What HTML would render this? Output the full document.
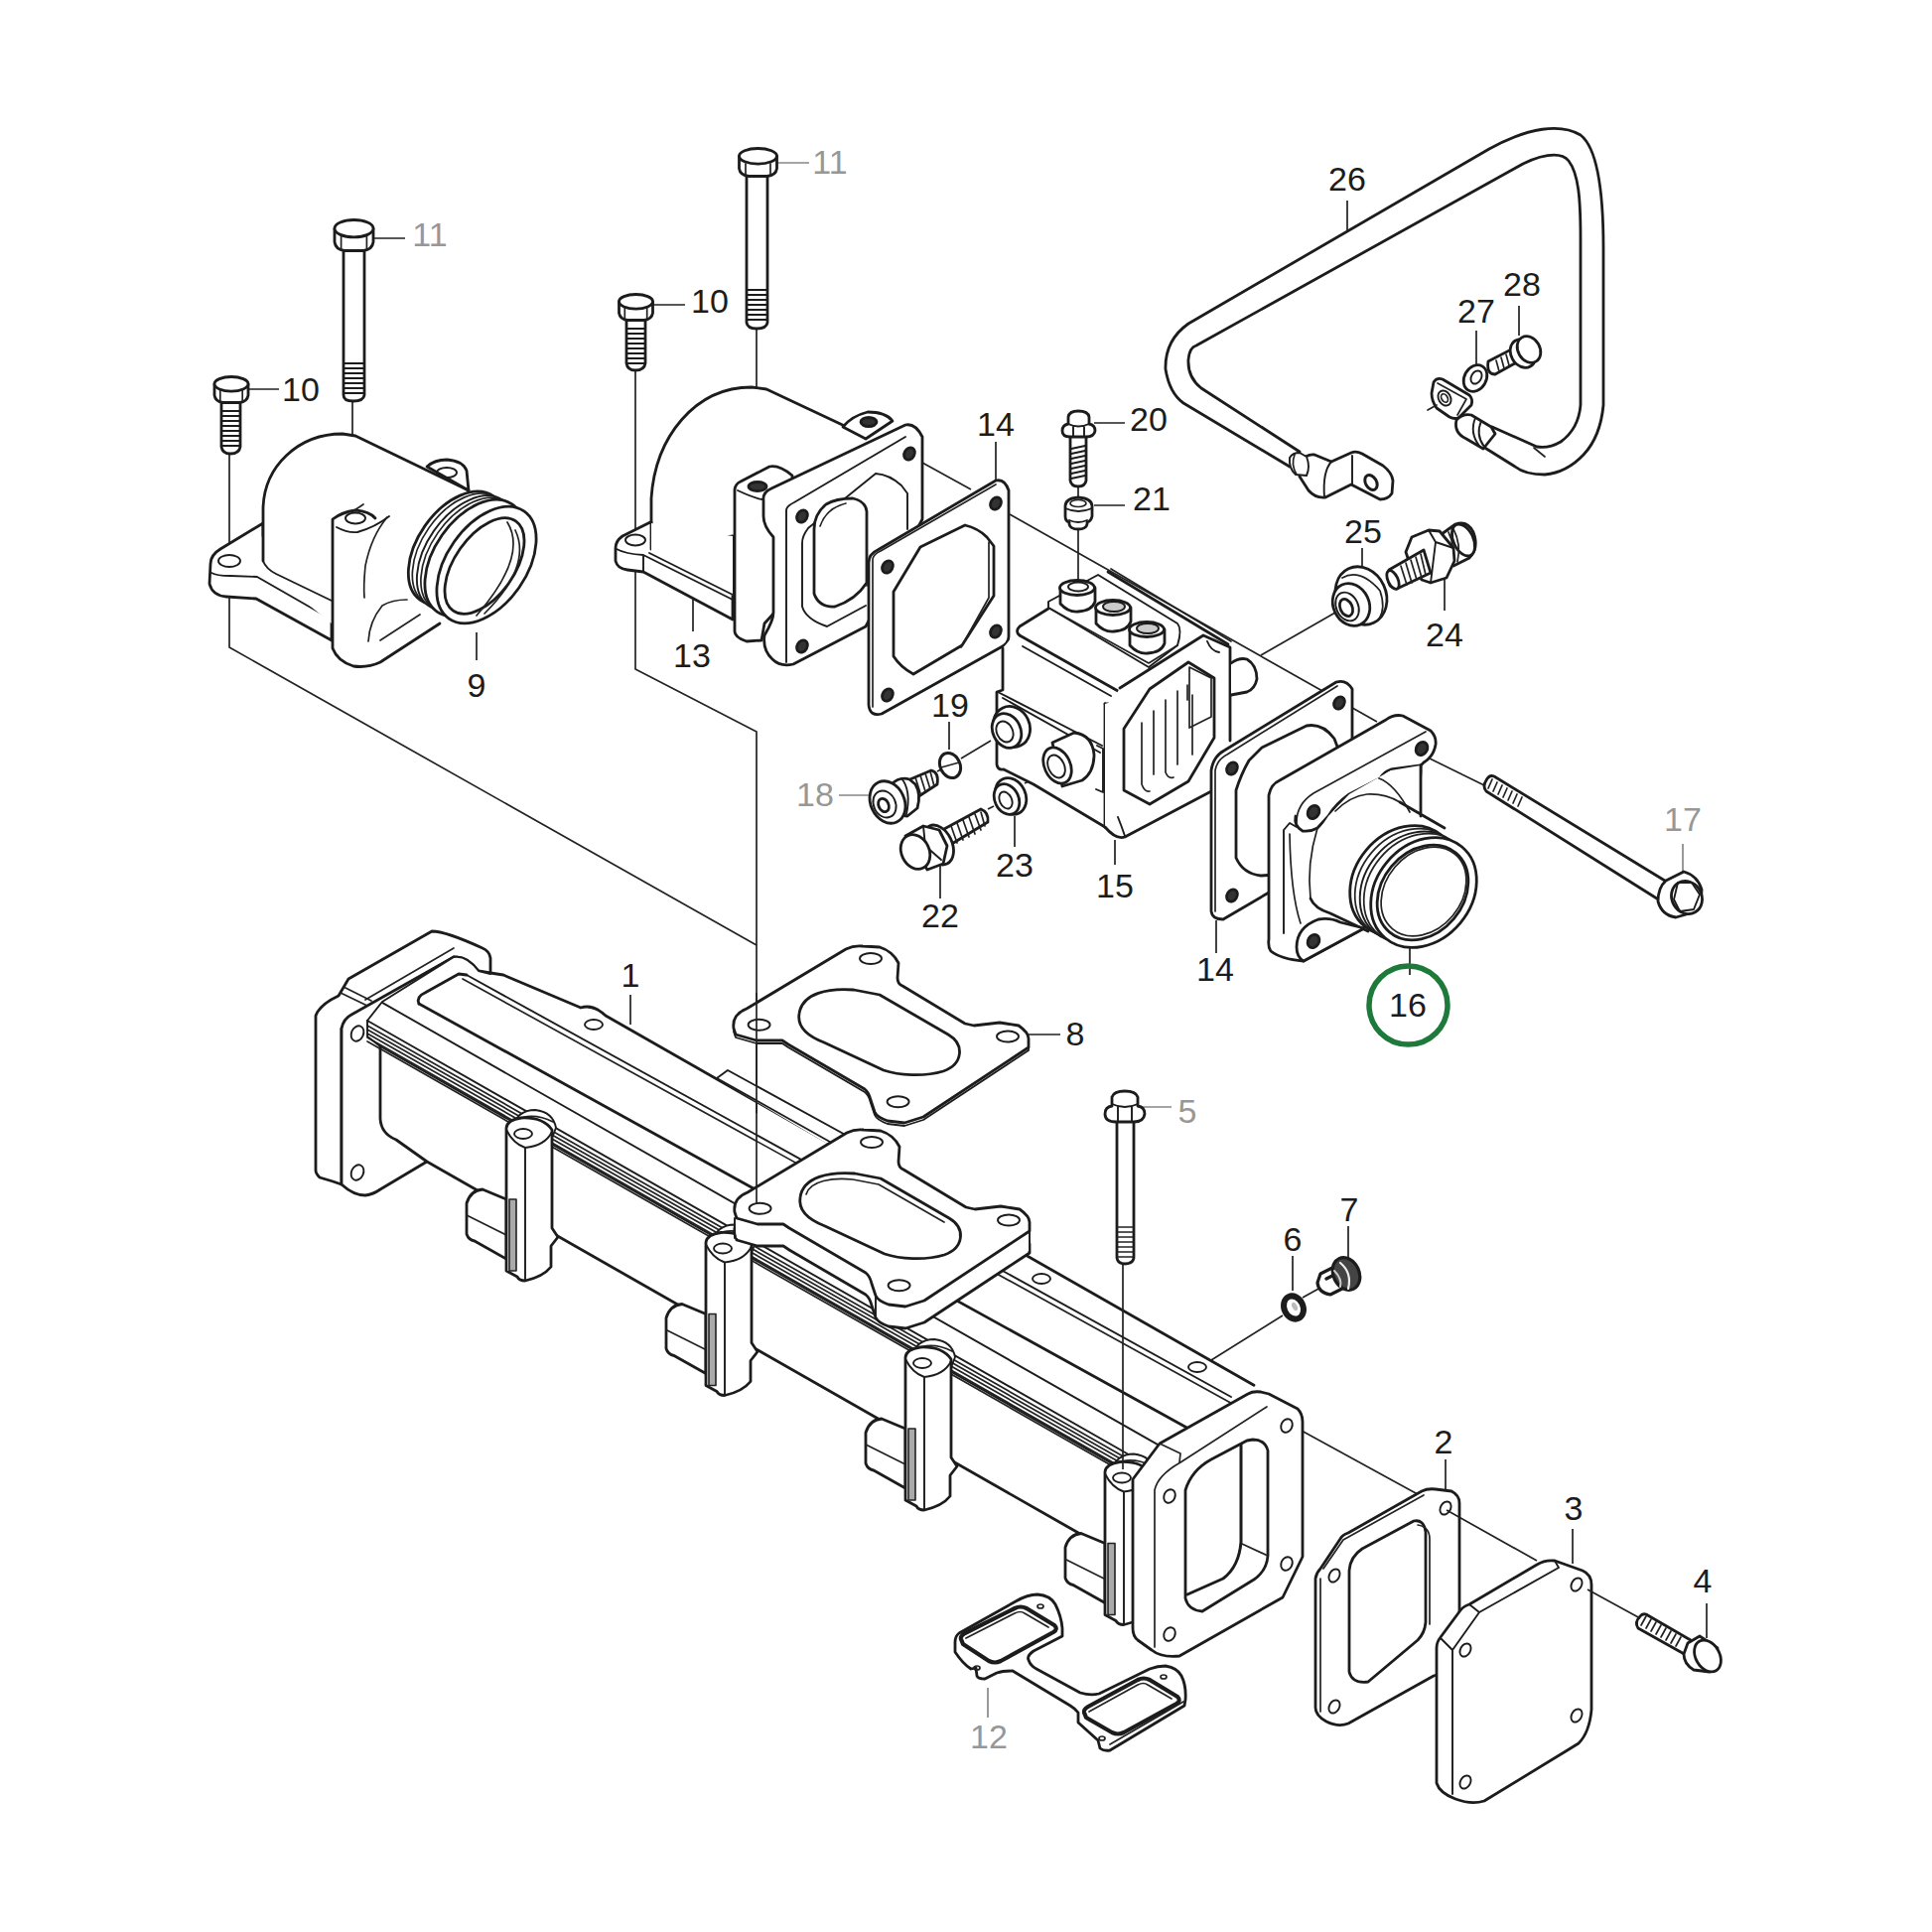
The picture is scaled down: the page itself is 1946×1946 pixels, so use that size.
<!DOCTYPE html>
<html><head><meta charset="utf-8"><style>
html,body{margin:0;padding:0;background:#fff;width:1946px;height:1946px;overflow:hidden}
svg{display:block}
.k{stroke:#1c1c1c;stroke-width:2.8;fill:none;stroke-linejoin:round;stroke-linecap:round}
.w{fill:#fff}
.t{stroke:#222;stroke-width:1.7;fill:none}
.tg{stroke:#888;stroke-width:1.7;fill:none}
.m{stroke-width:1.9}
text{font-family:"Liberation Sans",sans-serif;font-size:34px;fill:#1c1c1c;text-anchor:middle}
text.g{fill:#979797}
</style></head><body>
<svg width="1946" height="1946" viewBox="0 0 1946 1946">
<rect width="1946" height="1946" fill="#fff"/>
<!-- CONNECTOR LINES -->
<g class="t">
<path d="M231,455 V652 L762,952"/>
<path d="M640,372 V674 L762,737 V1217"/>
<path d="M355,402 V530"/>
<path d="M762,330 V390"/>
<path d="M929,466 L978,493 M1017,518 L1387,727"/>

<path d="M1086,490 V502 M1086,533 V590"/>
<path d="M1345,617 L1270,660"/>
<path d="M1438,763 L1497,792"/>
<path d="M1220,1370 L1292,1325 M1312,1307 L1330,1297"/>
<path d="M1300,1435 L1457,1521"/>

<path d="M944,777 L948,775 M968,764 L998,746"/>
<path d="M1032,789 L1058,777 M995,815 L1001,812"/>
</g>
<!-- LEADERS -->
<g class="t">
<path d="M376,240 H408 M250,392 H281 M657,307 H690 M1357,202 V232 M1487,333 V367 M1530,308 V338 M1102,426 H1133 M1102,509 H1133 M1003,445 V485 M1372,552 V572 M1455,570 V615 M480,637 V665 M698,604 V636 M956,727 V755 M1022,822 V853 M947,870 V905 M1123,846 V871 M1225,927 V960 M1420,952 V982 M635,1002 V1032 M1035,1042 H1068 M1302,1265 V1300 M1358,1235 V1270 M1456,1470 V1505 M1584,1540 V1575 M1719,1615 V1650"/>
</g>
<g class="tg">
<path d="M782,164 H815 M845,801 H875 M1695,850 V882 M1150,1115 H1180 M995,1700 V1730"/>
</g>
<!--PARTS-->
<!-- P1 manifold -->
<g class="k">
<path class="w" d="M341,1003 L351,986 L435,938 Q449,938 486,955 Q493,958 494,965 V980 L482,978 L457,964 L368,1017 Q350,1024 344,1036 V1193 Q336,1190 322,1186 Q318,1182 318,1179 V1023 Q322,1012 341,1003 Z"/>
<path class="w" d="M344,1036 Q346,1026 354,1022 L457,964 Q470,962 482,978 L494,981 L494,1000 L430,1170 L383,1198 Q376,1203 368,1204 Q356,1204 344,1193 Z"/>
<path class="t" d="M343,1000 L370,1013 M346,994 L374,1008 M368,1007 L457,955"/>
<ellipse class="m" cx="360" cy="1041" rx="6" ry="8" transform="rotate(25 360 1041)"/><ellipse class="m" cx="360" cy="1181" rx="6" ry="8" transform="rotate(25 360 1181)"/>
<path class="w" stroke="none" d="M370,1028 L385,1009 L457,964 Q470,962 482,978 L494,981 L507,982 L1263,1395 L1311,1425 V1601 L1175,1668 L1142,1643 L1142,1574 L430,1170 Q405,1155 399,1148 Q384,1142 383,1127 V1054 L371,1044 Z"/>
<path d="M494,980 L507,982 L585,1015 Q597,1011 610,1023 L1263,1395.2"/>
<path class="m" d="M370,1028 L385,1009 L457,964 Q470,962 482,978 L494,981"/>
<path d="M422,1011 Q419,1004 428,1000 L462,981 L470,982"/><path class="m" d="M470,982 L1240,1407.0"/>
<path class="t" d="M466,986 L1240,1413.2"/>
<path d="M422,1011.0 L1195,1437.7"/>
<path class="m" d="M385,1009.9 L1175,1460.2"/>
<path class="m" d="M370,1028.0 L1142,1468.0"/>
<path class="t" d="M370,1033.0 L1142,1473.0"/>
<path class="t" d="M370,1037.0 L1142,1477.0"/>
<path class="t" d="M370,1041.0 L1142,1481.0"/>
<path class="t" d="M370,1045.0 L1142,1485.0"/>
<path class="t" d="M370,1049.0 L1142,1489.0"/>
<path class="m" d="M383,1054.0 L1142,1486.6"/>
<path class="m" d="M370,1028 V1044 L383,1054"/>
<path class="w" d="M722,1086 L733,1078 L870,1153 L850,1162 Z" stroke="none"/><path class="m" d="M722,1086 L733,1078 L866,1151 M722,1086 L850,1158"/><ellipse class="m" cx="598" cy="1032" rx="9" ry="5"/><ellipse class="m" cx="1049" cy="1288" rx="9" ry="5"/><ellipse class="m" cx="1206" cy="1377" rx="9" ry="5"/>
<path d="M383,1054 V1127 Q384,1142 399,1148 L430,1170 L1142,1575.8"/>
</g>
<g class="k">
<path class="w" d="M470.0,1212.0 V1243.0 Q472.0,1249.0 478.0,1250.0 L510.0,1268.0 V1208.0 L486.0,1198.0 Q474.0,1199.0 470.0,1212.0 Z"/>
<path class="t" d="M470.0,1224.0 L510.0,1244.0"/>
<path class="w m" d="M516.0,1136.0 Q521.0,1118.0 539.0,1118.0 Q557.0,1120.0 560.0,1136.0 L556.0,1146.0 Z"/>
<path class="t" d="M519.0,1128.0 Q537.0,1120.0 557.0,1130.0"/>
<path class="w" d="M510.0,1136.0 Q511.0,1128.0 525.0,1126.0 Q547.0,1125.0 556.0,1138.0 V1237.0 L562.0,1246.0 L555.0,1255.0 V1276.0 Q547.0,1286.0 529.0,1290.0 Q523.0,1290.0 521.0,1286.0 L510.0,1280.0 Z"/>
<path class="m" d="M510.0,1138.0 Q517.0,1152.0 529.0,1156.0 Q549.0,1154.0 556.0,1140.0 M529.0,1156.0 V1289.0"/>
<ellipse class="m" cx="527" cy="1142.0" rx="9" ry="5"/>
<rect x="513.0" y="1208.0" width="7" height="72" fill="#aaa" stroke="#222" stroke-width="1.6"/>
<path class="w" d="M671.0,1327.5 V1358.5 Q673.0,1364.5 679.0,1365.5 L711.0,1383.5 V1323.5 L687.0,1313.5 Q675.0,1314.5 671.0,1327.5 Z"/>
<path class="t" d="M671.0,1339.5 L711.0,1359.5"/>
<path class="w m" d="M717.0,1251.5 Q722.0,1233.5 740.0,1233.5 Q758.0,1235.5 761.0,1251.5 L757.0,1261.5 Z"/>
<path class="t" d="M720.0,1243.5 Q738.0,1235.5 758.0,1245.5"/>
<path class="w" d="M711.0,1251.5 Q712.0,1243.5 726.0,1241.5 Q748.0,1240.5 757.0,1253.5 V1352.5 L763.0,1361.5 L756.0,1370.5 V1391.5 Q748.0,1401.5 730.0,1405.5 Q724.0,1405.5 722.0,1401.5 L711.0,1395.5 Z"/>
<path class="m" d="M711.0,1253.5 Q718.0,1267.5 730.0,1271.5 Q750.0,1269.5 757.0,1255.5 M730.0,1271.5 V1404.5"/>
<ellipse class="m" cx="728" cy="1257.5" rx="9" ry="5"/>
<rect x="714.0" y="1323.5" width="7" height="72" fill="#aaa" stroke="#222" stroke-width="1.6"/>
<path class="w" d="M872.0,1443.0 V1474.0 Q874.0,1480.0 880.0,1481.0 L912.0,1499.0 V1439.0 L888.0,1429.0 Q876.0,1430.0 872.0,1443.0 Z"/>
<path class="t" d="M872.0,1455.0 L912.0,1475.0"/>
<path class="w m" d="M918.0,1367.0 Q923.0,1349.0 941.0,1349.0 Q959.0,1351.0 962.0,1367.0 L958.0,1377.0 Z"/>
<path class="t" d="M921.0,1359.0 Q939.0,1351.0 959.0,1361.0"/>
<path class="w" d="M912.0,1367.0 Q913.0,1359.0 927.0,1357.0 Q949.0,1356.0 958.0,1369.0 V1468.0 L964.0,1477.0 L957.0,1486.0 V1507.0 Q949.0,1517.0 931.0,1521.0 Q925.0,1521.0 923.0,1517.0 L912.0,1511.0 Z"/>
<path class="m" d="M912.0,1369.0 Q919.0,1383.0 931.0,1387.0 Q951.0,1385.0 958.0,1371.0 M931.0,1387.0 V1520.0"/>
<ellipse class="m" cx="929" cy="1373.0" rx="9" ry="5"/>
<rect x="915.0" y="1439.0" width="7" height="72" fill="#aaa" stroke="#222" stroke-width="1.6"/>
<path class="w" d="M1073.0,1558.5 V1589.5 Q1075.0,1595.5 1081.0,1596.5 L1113.0,1614.5 V1554.5 L1089.0,1544.5 Q1077.0,1545.5 1073.0,1558.5 Z"/>
<path class="t" d="M1073.0,1570.5 L1113.0,1590.5"/>
<path class="w m" d="M1119.0,1482.5 Q1124.0,1464.5 1142.0,1464.5 Q1160.0,1466.5 1163.0,1482.5 L1159.0,1492.5 Z"/>
<path class="t" d="M1122.0,1474.5 Q1140.0,1466.5 1160.0,1476.5"/>
<path class="w" d="M1113.0,1482.5 Q1114.0,1474.5 1128.0,1472.5 Q1150.0,1471.5 1159.0,1484.5 V1583.5 L1165.0,1592.5 L1158.0,1601.5 V1622.5 Q1150.0,1632.5 1132.0,1636.5 Q1126.0,1636.5 1124.0,1632.5 L1113.0,1626.5 Z"/>
<path class="m" d="M1113.0,1484.5 Q1120.0,1498.5 1132.0,1502.5 Q1152.0,1500.5 1159.0,1486.5 M1132.0,1502.5 V1635.5"/>
<ellipse class="m" cx="1130" cy="1488.5" rx="9" ry="5"/>
<rect x="1116.0" y="1554.5" width="7" height="72" fill="#aaa" stroke="#222" stroke-width="1.6"/>
</g>
<!-- central flange on manifold -->
<g class="k">
<path class="w" transform="translate(1,207)" d="M739,1036 Q737,1022 752,1016 L852,956 Q860,952 869,953 L886,954 Q899,958 905,970 L904,985 Q904,991 909,993 L972,1031 L981,1033 L1007,1030 L1026,1033 Q1036,1040 1036,1046 L1036,1055 L930,1125 L911,1131 L894,1129 Q883,1125 881,1120 L877,1108 Q875,1100 871,1097 L794,1052 L788,1048 L762,1048 L741,1042 Z"/>
<path class="w" stroke="none" d="M740,1227 L742,1247 L1037,1260 L1037,1240 Z"/>
<path class="w" transform="translate(1,185)" d="M739,1036 Q737,1022 752,1016 L852,956 Q860,952 869,953 L886,954 Q899,958 905,970 L904,985 Q904,991 909,993 L972,1031 L981,1033 L1007,1030 L1026,1033 Q1036,1040 1036,1046 L1036,1055 L930,1125 L911,1131 L894,1129 Q883,1125 881,1120 L877,1108 Q875,1100 871,1097 L794,1052 L788,1048 L762,1048 L741,1042 Z"/>
<path class="m" d="M740,1227 V1247 M1037,1240 V1262 M882,1305 V1328"/>
<g transform="translate(1,185)">
<ellipse class="m" cx="877" cy="965.5" rx="11" ry="5.5"/><ellipse class="m" cx="764.6" cy="1032.3" rx="11" ry="5.5"/><ellipse class="m" cx="1015" cy="1044" rx="11" ry="5.5"/><ellipse class="m" cx="904.6" cy="1109.8" rx="11" ry="5.5"/>
<path d="M805,1021 C808,1000 835,995 860,997 L886,1002 L955,1042 C972,1052 970,1072 950,1079 C930,1085 905,1083 890,1078 L830,1050 C812,1043 803,1033 805,1021 Z"/>
<path class="t" d="M811,1018 C815,1004 838,1001 858,1003 L884,1008 L950,1046"/>
</g>
</g>
<!-- P8 gasket -->
<g class="k">
<path class="w" transform="translate(0,3)" stroke-width="1.8" d="M739,1036 L741,1042 L762,1048 L788,1048 L794,1052 L871,1097 Q875,1100 877,1108 L881,1120 Q883,1125 894,1129 L911,1131 L930,1125 L1036,1055 L1036,1046 Z"/>
<path class="w" d="M739,1036 Q737,1022 752,1016 L852,956 Q860,952 869,953 L886,954 Q899,958 905,970 L904,985 Q904,991 909,993 L972,1031 L981,1033 L1007,1030 L1026,1033 Q1036,1040 1036,1046 L1036,1055 L930,1125 L911,1131 L894,1129 Q883,1125 881,1120 L877,1108 Q875,1100 871,1097 L794,1052 L788,1048 L762,1048 L741,1042 Z"/>
<ellipse class="m" cx="877" cy="965.5" rx="11" ry="5.5"/><ellipse class="m" cx="764.6" cy="1032.3" rx="11" ry="5.5"/><ellipse class="m" cx="1015" cy="1044" rx="11" ry="5.5"/><ellipse class="m" cx="904.6" cy="1109.8" rx="11" ry="5.5"/>
<path d="M805,1021 C808,1000 835,995 860,997 L886,1002 L955,1042 C972,1052 970,1072 950,1079 C930,1085 905,1083 890,1078 L830,1050 C812,1043 803,1033 805,1021 Z"/>
</g>
<!-- right end flange -->
<g class="k">
<path class="w" d="M1141,1490 L1168,1454 L1257,1404 Q1262,1401 1270,1402 L1278,1404 L1307,1419 Q1312,1424 1312,1432 V1568 L1292,1609 L1188,1668 Q1170,1670 1160,1662 L1146,1652 Q1141,1648 1141,1640 Z"/>
<path class="t" d="M1168,1454 L1189,1464 L1188,1473 M1163,1659 V1501 Q1166,1486 1189,1473 L1276,1417"/>
<ellipse class="m" cx="1178" cy="1507" rx="5.5" ry="7" transform="rotate(25 1178 1507)"/>
<ellipse class="m" cx="1296" cy="1436" rx="5.5" ry="7" transform="rotate(25 1296 1436)"/>
<ellipse class="m" cx="1296" cy="1575" rx="5.5" ry="7" transform="rotate(25 1296 1575)"/>
<ellipse class="m" cx="1178" cy="1646" rx="5.5" ry="7" transform="rotate(25 1178 1646)"/>
<path d="M1194,1501 V1610 Q1197,1622 1211,1623 L1263,1591 Q1276,1582 1277,1567 V1461 Q1274,1450 1262,1450 L1256,1451 L1220,1470 Q1200,1481 1194,1501 Z"/>
<path stroke-width="3" d="M1250,1455 V1553 Q1248,1578 1232,1590 L1196,1606"/>
<path class="t" d="M1251,1555 L1277,1567"/>
</g>
<!-- lines over manifold -->
<g class="t">
<path d="M762,1000 V1213"/>
<path d="M1131,1272 V1480"/>
</g>
<!-- P5 bolt -->
<g class="k">
<path class="w" d="M1125,1128 V1267 Q1126,1273 1133,1273 Q1141,1273 1142,1267 V1128"/>
<path class="t" d="M1126,1236 H1141 M1126,1241 H1141 M1126,1246 H1141 M1126,1251 H1141 M1126,1256 H1141 M1126,1261 H1141 M1126,1266 H1141"/>
<path class="w" d="M1113,1122 Q1113,1115 1120,1114 L1120,1105 Q1122,1099 1133,1099 Q1144,1099 1146,1105 L1146,1114 Q1153,1115 1153,1122 Q1152,1130 1142,1130 L1124,1130 Q1113,1130 1113,1122 Z"/>
<path class="m" d="M1120,1112 Q1133,1118 1146,1112 M1126,1115 V1130 M1140,1115 V1130"/>
</g>
<!-- P6 washer -->
<g class="k">
<ellipse cx="1303" cy="1317" rx="9.5" ry="12" transform="rotate(-25 1303 1317)" stroke-width="6" fill="#fff"/>
<ellipse cx="1304" cy="1316" rx="2.5" ry="4.5" transform="rotate(-25 1304 1316)" fill="#bbb" stroke="none"/>
</g>
<!-- P7 plug -->
<g class="k">
<path class="w" d="M1330,1283 L1348,1274 L1356,1296 L1340,1304 Q1328,1302 1327,1292 Z" stroke-width="3.2"/>
<path d="M1336,1288 L1346,1283" stroke-width="3.5"/>
<ellipse cx="1356" cy="1283" rx="13" ry="17" transform="rotate(-25 1356 1283)" fill="#444" stroke-width="3.2"/>
<path d="M1350,1272 Q1362,1282 1358,1298" stroke="#eee" stroke-width="2.2"/>
<path d="M1344,1280 Q1352,1288 1350,1296" stroke="#ccc" stroke-width="2"/>
</g>

<!-- P2 gasket -->
<g class="k">
<path class="w" d="M1325,1590 Q1326,1584 1330,1580 L1350,1550 Q1352,1546 1358,1544 L1432,1502 Q1438,1499 1446,1500 L1462,1502 Q1470,1506 1470,1514 V1680 L1444,1688 L1358,1736 Q1348,1740 1336,1734 Q1325,1728 1325,1720 Z"/>
<path class="t" d="M1330,1590 V1724 M1333,1580 L1353,1551 L1434,1506" stroke-width="2"/>
<path d="M1359,1582 Q1360,1568 1372,1560 L1424,1532 Q1434,1530 1436,1543 V1634 Q1435,1645 1428,1652 L1378,1694 Q1362,1696 1359,1684 Z"/>
<path class="t" d="M1428,1536 Q1440,1538 1440,1550 V1636"/>
<ellipse class="m" cx="1456" cy="1519" rx="5" ry="7" transform="rotate(30 1456 1519)"/>
<ellipse class="m" cx="1344" cy="1587" rx="5" ry="7" transform="rotate(30 1344 1587)"/>
<ellipse class="m" cx="1344" cy="1719" rx="5" ry="7" transform="rotate(30 1344 1719)"/>
</g>
<!-- P3 cover -->
<g class="k">
<path class="w" d="M1447,1660 Q1447,1654 1451,1649 L1471,1622 Q1474,1618 1480,1616 L1548,1576 Q1556,1571 1566,1572 L1594,1582 Q1603,1586 1603,1596 V1722 Q1601,1745 1590,1756 L1577,1764 L1495,1814 Q1482,1818 1466,1812 Q1450,1806 1447,1796 Z"/>
<path class="m" d="M1463,1662 V1807 M1463,1662 L1490,1624 L1570,1579 M1451,1650 L1463,1662 M1480,1616 L1490,1624 M1566,1572 L1570,1579"/>
<ellipse class="m" cx="1588" cy="1596" rx="5" ry="7" transform="rotate(30 1588 1596)"/>
<ellipse class="m" cx="1476" cy="1662" rx="5" ry="7" transform="rotate(30 1476 1662)"/>
<ellipse class="m" cx="1588" cy="1728" rx="5" ry="7" transform="rotate(30 1588 1728)"/>
<ellipse class="m" cx="1476" cy="1795" rx="5" ry="7" transform="rotate(30 1476 1795)"/>
</g>
<!-- P4 bolt -->
<g class="k">
<path class="w" d="M1652,1628 Q1646,1634 1650,1640 L1700,1668 L1708,1655 L1658,1626 Q1654,1625 1652,1628 Z"/>
<path class="t" d="M1658,1628 L1653,1637 M1663,1631 L1658,1640 M1668,1634 L1663,1643 M1673,1637 L1668,1646 M1678,1640 L1673,1649 M1683,1643 L1678,1652 M1688,1646 L1683,1655 M1693,1649 L1688,1658"/>
<path class="w" d="M1700,1655 L1712,1648 L1730,1660 L1722,1684 L1706,1682 Q1696,1676 1696,1666 Z"/>
<ellipse class="w" cx="1720" cy="1668" rx="12" ry="17" transform="rotate(-30 1720 1668)"/>
</g>
<g class="t">
<path d="M1457,1521 L1548,1572 M1599,1601 L1652,1630"/>
</g>

<!-- P12 gasket -->
<g class="k" stroke-width="1.7">
<path class="w" d="M962,1654 Q962,1648 966,1645 L1023,1613 Q1035,1606 1045,1606 Q1058,1607 1063,1616 Q1069,1628 1070,1640 V1648 L1041,1663 Q1034,1668 1036,1672 Q1038,1678 1044,1681 L1088,1705 Q1098,1708 1107,1706 L1158,1681 Q1166,1678 1174,1678 Q1186,1680 1190,1688 Q1195,1698 1194,1712 L1193,1718 L1118,1763 Q1112,1764 1108,1761 L1106,1753 L1086,1735 V1725 Q1083,1721 1078,1718 L1020,1683 Q1010,1683 1004,1685 L992,1691 Q985,1691 984,1688 L983,1680 L978,1681 Q970,1676 962,1664 Z"/>
<path stroke-width="4.2" d="M968,1651 Q967,1648 972,1645 L1022,1620 Q1028,1617 1034,1620 L1062,1637 Q1066,1641 1061,1644 L1008,1673 Q1002,1676 996,1673 L970,1656 Z"/>
<path class="t" d="M973,1650 L1022,1625 Q1028,1622 1032,1625 L1056,1639"/>
<path stroke-width="4.2" d="M1092,1725 Q1091,1722 1096,1719 L1146,1692 Q1152,1689 1158,1692 L1186,1709 Q1190,1713 1185,1716 L1132,1745 Q1126,1748 1120,1745 L1094,1730 Z"/>
<path class="t" d="M1097,1724 L1146,1697 Q1152,1694 1156,1697 L1180,1711"/>
<path class="t" d="M1118,1757 L1192,1714"/>
<ellipse class="t" cx="1048" cy="1618" rx="3" ry="2"/>
<ellipse class="t" cx="984" cy="1680" rx="3" ry="2"/>
<ellipse class="t" cx="1172" cy="1689" rx="3" ry="2"/>
<ellipse class="t" cx="1110" cy="1751" rx="3" ry="2"/>
</g>

<!--MFLANGE-->
<!-- P9 elbow -->
<g class="k">
<path class="w" d="M265,527 L222,553 Q212,559 212,568 L211,588 Q214,600 228,601 L258,603 L334,645 L334,540 L265,540 Z"/>
<path class="m" d="M213,577 Q218,580 232,580 L259,581 L334,624"/>
<ellipse class="m" cx="231" cy="565" rx="11" ry="6"/>
<path class="w" d="M265,572 V512 C266,470 300,437 345,437 L358,439 L472,494 L472,560 L443,628 L334,628 Z" stroke="none"/>
<path d="M265,565 V512 C266,470 300,437 345,437 L358,439 L472,494"/>
<path class="m" d="M265,565 Q268,573 278,578 L334,605"/>
<path class="w" d="M430,470 Q438,463 450,463 Q466,464 470,474 L472,494 Z"/>
<ellipse class="m" cx="450" cy="476" rx="10" ry="5"/>
<path class="w" stroke="none" d="M335,653 V523 Q344,516 358,514 Q372,515 378,522 L392,520 L430,560 L443,628 L383,667 Q370,673 356,671 Q340,666 335,653 Z"/>
<path d="M443,628 L383,667 Q370,673 356,671 Q340,666 335,653 V523 Q344,516 358,514 Q372,515 378,522"/>
<ellipse class="m" cx="358" cy="522" rx="10" ry="5.5"/>
<path class="t" d="M357,514 L366,508"/>
<path class="m" d="M339,531 Q350,537 360,536 Q378,531 392,520"/>
<path class="t" d="M390,521 Q374,540 368,570 Q366,590 367,602"/>
<path class="t" d="M371,646 Q372,626 385,610 Q395,604 410,604 M383,645 L423,619"/>
</g>
<!-- P9 threaded ring -->
<g class="k">
<ellipse class="w" cx="460" cy="552" rx="64" ry="39" transform="rotate(-55 460 552)"/>
<ellipse class="t" cx="464" cy="554" rx="64" ry="39" transform="rotate(-55 464 554)"/>
<ellipse class="w m" cx="469" cy="557" rx="65" ry="39" transform="rotate(-55 469 557)"/>
<ellipse class="t" cx="473" cy="559" rx="65" ry="39" transform="rotate(-55 473 559)"/>
<ellipse class="w" cx="478" cy="562" rx="66" ry="40" transform="rotate(-55 478 562)"/>
<ellipse class="w" cx="490" cy="569" rx="66" ry="40" transform="rotate(-55 490 569)"/>
<ellipse cx="488" cy="570" rx="55" ry="30" transform="rotate(-55 488 570)"/>
<path class="t" d="M511,526 Q532,560 480,620 M519,534 Q536,570 488,618"/>
</g>
<!-- P11 left bolt -->
<g class="k">
<path class="w" d="M346,252 V398 Q346,404 356,404 Q366,404 367,398 V252"/>
<path class="m" d="M347,366 H366 M347,371 H366 M347,376 H366 M347,381 H366 M347,386 H366 M347,391 H366 M347,396 H366"/>
<path class="w" d="M337.0,230.2 V243.8 Q338.0,251.5 347.1,252.5 L365.9,252.5 Q375.0,251.5 376.0,243.8 V230.2 Z"/><ellipse class="w" cx="356.5" cy="230.2" rx="19.5" ry="8.7"/><path class="t" d="M343.6,238.4 V251.0 M369.4,238.4 V251.0"/>
</g>
<!-- P10 left bolt -->
<g class="k">
<path class="w" d="M223,406 V450 Q224,457 232,457 Q241,457 242,450 V406"/>
<path class="m" d="M224,414 H241 M224,419 H241 M224,424 H241 M224,429 H241 M224,434 H241 M224,439 H241 M224,444 H241 M224,449 H241"/>
<path class="w" d="M216.0,386.8 V398.2 Q217.0,404.5 224.8,405.5 L241.2,405.5 Q249.0,404.5 250.0,398.2 V386.8 Z"/><ellipse class="w" cx="233" cy="386.8" rx="17.0" ry="7.3"/><path class="t" d="M221.8,393.7 V404.0 M244.2,393.7 V404.0"/>
</g>
<!-- P11 right bolt -->
<g class="k">
<path class="w" d="M752,178 V325 Q753,331 762,331 Q772,331 773,325 V178"/>
<path class="m" d="M753,292 H772 M753,297 H772 M753,302 H772 M753,307 H772 M753,312 H772 M753,317 H772 M753,322 H772"/>
<path class="w" d="M744.5,157.3 V169.7 Q745.5,176.5 754.4,177.5 L772.6,177.5 Q781.5,176.5 782.5,169.7 V157.3 Z"/><ellipse class="w" cx="763.5" cy="157.3" rx="19.0" ry="7.8"/><path class="t" d="M751.0,164.8 V176.0 M776.0,164.8 V176.0"/>
</g>
<!-- P10 right bolt -->
<g class="k">
<path class="w" d="M631,323 V366 Q632,373 640,373 Q649,373 650,366 V323"/>
<path class="m" d="M632,331 H649 M632,336 H649 M632,341 H649 M632,346 H649 M632,351 H649 M632,356 H649 M632,361 H649 M632,366 H649"/>
<path class="w" d="M623.5,303.8 V315.2 Q624.5,321.5 632.3,322.5 L648.7,322.5 Q656.5,321.5 657.5,315.2 V303.8 Z"/><ellipse class="w" cx="640.5" cy="303.8" rx="17.0" ry="7.3"/><path class="t" d="M629.3,310.7 V321.0 M651.7,310.7 V321.0"/>
</g>

<!-- P13 elbow -->
<g class="k">
<path class="w" stroke="none" d="M656,553 V502 C660,440 700,390 757,390 L772,392 L860,434 L880,440 L776,500 L740,620 L656,580 Z"/>
<path d="M656,553 V502 C660,440 700,390 757,390 L772,392 L855,431"/>
<path class="w" d="M655,526 L627,540 Q620,545 620,552 L620,565 Q622,573 632,574 L648,576 L738,624 L738,540 L656,553 V526 Z"/>
<path class="w" stroke="none" d="M656,527 V556 L738,600 V540 Z"/>
<path class="m" d="M621,553 Q630,558 648,559 L738,604 M654,557 L738,599 M648,559 V576"/>
<ellipse class="m" cx="640" cy="544" rx="10" ry="5.5"/>
<path class="w" d="M849,430 Q858,419 874,415 Q892,415 899,424 L872,442 Z"/>
<ellipse cx="875" cy="425" rx="8" ry="4.5" fill="#333"/>
<!-- bracket -->
<path class="w" d="M740,493 Q741,487 746,485 L775,470 Q785,468 798,479 L800,540 L780,545 L780,617 L770,628 L767,645 L752,646 Q740,642 740,636 Z"/>
<ellipse cx="763" cy="490" rx="9" ry="4.5" fill="#333"/>
<path class="m" d="M743,494 Q760,502 768,503 L776,500"/>
<!-- square flange -->
<path class="w" d="M769,504 Q768,496 777,492 L912,428 Q922,426 929,440 L929,523 L872,631 L799,669 Q786,672 778,664 Q768,655 770,640 Q779,625 779,617 L779,541 Q769,530 769,520 Z"/>
<path class="m" d="M792,514 Q792,510 800,506 L912,440 M792,514 V667"/>
<ellipse cx="808" cy="520" rx="5" ry="6.5" transform="rotate(30 808 520)" fill="#333"/>
<ellipse cx="916" cy="457" rx="5" ry="6.5" transform="rotate(30 916 457)" fill="#333"/>
<ellipse cx="808" cy="651" rx="5" ry="6.5" transform="rotate(30 808 651)" fill="#333"/>
<path class="m" d="M808,547 Q808,540 814,532 L882,477 Q896,478 908,489 L914,497 V533 M808,547 V611 Q812,624 833,631 L872,610"/>
<path class="w" d="M820,533 V598 Q825,612 841,611 Q862,604 873,587 V515 Q872,505 859,502 Q842,502 832,508 Q820,518 820,533 Z"/>
<path class="t" d="M826,530 Q832,512 852,507 M873,520 V590"/>
</g>
<!-- P14 upper gasket -->
<g class="k">
<path class="w" d="M875,567 Q875,558 884,554 L1003,484 Q1012,482 1016,494 L1016,641 Q1016,648 1008,652 L888,719 Q876,722 875,710 Z"/>
<path class="t" d="M879,563 Q880,558 887,555 L1003,488 M879,563 V712"/>
<path d="M900,596 L927,551 L972,529 Q985,532 994,541 L1001,550 V600 L969,650 L920,679 Q907,672 900,661 Z"/>
<path class="t" d="M996,546 V602 L968,652"/>
<ellipse cx="1003" cy="507" rx="5" ry="6.5" transform="rotate(30 1003 507)" fill="#333"/>
<ellipse cx="894" cy="571" rx="5" ry="6.5" transform="rotate(30 894 571)" fill="#333"/>
<ellipse cx="1003" cy="636" rx="5" ry="6.5" transform="rotate(30 1003 636)" fill="#333"/>
<ellipse cx="894" cy="700" rx="5" ry="6.5" transform="rotate(30 894 700)" fill="#333"/>
</g>
<!-- P20 bolt -->
<g class="k">
<path class="w" d="M1078,438 V484 Q1079,490 1086,490 Q1093,490 1094,484 V438"/>
<path class="m" d="M1079,452 L1093,449 M1079,457 L1093,454 M1079,462 L1093,459 M1079,467 L1093,464 M1079,472 L1093,469 M1079,477 L1093,474 M1079,482 L1093,479"/>
<path class="w" d="M1070,434 Q1070,428 1076,427 L1076,420 Q1077,414 1086,414 Q1096,414 1097,420 L1097,427 Q1103,428 1103,434 Q1102,440 1094,440 L1078,440 Q1070,440 1070,434 Z"/>
<path class="m" d="M1076,427 Q1086,432 1097,427 M1081,430 V440 M1092,430 V440"/>
</g>
<!-- P21 spacer -->
<g class="k">
<path class="w" d="M1073,510 Q1073,502 1086,501 Q1100,502 1100,510 L1100,520 Q1099,525 1095,526 L1095,528 Q1094,533 1086,533 Q1078,533 1077,528 L1077,526 Q1073,525 1073,520 Z"/>
<path class="m" d="M1073,512 Q1086,518 1100,512 M1077,524 Q1086,528 1095,524"/>
<ellipse class="t" cx="1086" cy="507" rx="8" ry="3.5"/>
</g>

<!-- P26 tube -->
<g class="k">
<path d="M1299,470 L1192,406 Q1178,396 1174,372 Q1173,343 1197,326 L1500,150 C1540,128 1572,124 1592,136 C1610,150 1615,200 1615,250 V408 Q1612,440 1595,458 Q1578,476 1556,478 Q1536,478 1526,470 L1494,450"/>
<path d="M1309,455 L1210,391 Q1196,380 1197,362 Q1198,350 1205,348 L1525,170 C1550,155 1572,152 1580,162 C1590,175 1592,200 1592,240 V408 Q1590,432 1572,445 Q1560,452 1548,450 L1503,430"/>
<path class="t" d="M1545,451 L1556,460"/>
</g>
<!-- left fitting + eye -->
<g class="k">
<path class="w" d="M1341,465 L1361,456 Q1366,454 1372,457 L1393,469 Q1402,476 1403,484 L1402,497 Q1398,503 1390,503 L1361,488 L1335,501 Q1325,502 1318,494 L1309,480 L1309,465 Q1316,457 1324,458 Z"/>
<path class="m" d="M1362,459 V488 M1341,465 Q1332,475 1334,501"/>
<ellipse cx="1381" cy="486" rx="5.5" ry="8" transform="rotate(-30 1381 486)" stroke-width="3"/>
<path class="w m" d="M1299,461 Q1302,456 1309,456 L1316,460 Q1320,470 1316,479 L1305,478 Q1298,472 1299,461 Z"/>
<path class="t" d="M1304,458 Q1300,468 1306,478"/>
</g>
<!-- right fitting + clip -->
<g class="k">
<path class="w" d="M1444,385 Q1447,380 1453,382 L1480,398 Q1484,402 1482,408 L1470,420 Q1466,423 1460,420 L1447,411 Q1442,404 1442,396 Z"/>
<path class="t" d="M1448,386 L1477,402 L1468,418"/>
<ellipse class="m" cx="1455" cy="401" rx="6" ry="8" transform="rotate(-30 1455 401)"/>
<ellipse class="t" cx="1455" cy="401" rx="3" ry="4.5" transform="rotate(-30 1455 401)"/>
<path class="t" d="M1438,413 L1447,408"/>
<path class="w" d="M1467,423 Q1474,416 1482,418 L1502,430 L1506,437 L1494,452 L1477,442 Q1464,436 1467,423 Z"/>
<path class="m" d="M1486,421 Q1480,436 1490,449 M1492,424 Q1486,438 1495,450"/>

</g>
<!-- P27 washer -->
<g class="k">
<ellipse class="w" cx="1486" cy="381" rx="11" ry="14" transform="rotate(30 1486 381)"/>
<ellipse class="m" cx="1487" cy="380" rx="5" ry="7" transform="rotate(30 1487 380)"/>
</g>
<!-- P28 bolt -->
<g class="k">
<path class="w" d="M1499,364 L1528,349 L1535,361 L1506,377 Q1497,377 1499,364 Z"/>
<path class="t" d="M1507,363 L1510,374 M1512,360 L1515,371 M1517,357 L1520,368 M1522,354 L1525,365"/>
<ellipse class="w" cx="1534" cy="356" rx="12" ry="15" transform="rotate(-30 1534 356)"/>
<ellipse class="w" cx="1540" cy="352" rx="11" ry="14" transform="rotate(-30 1540 352)"/>
</g>

<!-- P25 -->
<g class="k">
<ellipse class="w" cx="1371" cy="600" rx="25" ry="30" transform="rotate(-25 1371 600)"/>
<path class="t" d="M1352,582 Q1370,572 1390,595 Q1396,612 1389,624"/>
<ellipse class="w" cx="1361" cy="609" rx="18" ry="22" transform="rotate(-25 1361 609)"/>
<ellipse class="m" cx="1357" cy="611" rx="11" ry="15" transform="rotate(-25 1357 611)"/>
<ellipse cx="1356" cy="612" rx="6" ry="9" transform="rotate(-25 1356 612)"/>
</g>
<!-- P24 -->
<g class="k">
<path class="w" d="M1452,538 L1466,528 Q1478,524 1484,536 Q1490,552 1480,562 L1464,570 Z"/>
<ellipse class="w" cx="1474" cy="544" rx="10" ry="17" transform="rotate(-25 1474 544)"/>
<path class="t" d="M1459,536 Q1466,550 1462,568 M1464,533 Q1472,548 1468,566"/>
<path class="w" d="M1416,556 L1422,541 L1439,534 L1450,535 L1464,552 L1465,565 L1457,582 L1441,587 L1432,584 L1419,565 Z"/>
<path class="m" d="M1439,534 L1446,546 L1464,552 M1446,546 L1441,587"/>
<path class="w" d="M1399,574 L1434,554 L1441,577 L1407,593 Q1398,592 1399,584 Z"/>
<ellipse class="w" cx="1403" cy="584" rx="5" ry="10" transform="rotate(-25 1403 584)"/>
<path class="t" d="M1411,570 L1417,589 M1416,567 L1422,587 M1421,564 L1427,584 M1426,561 L1432,582 M1431,558 L1436,579"/>
</g>

<!-- P15 block -->
<g class="k">
<!-- main silhouette fill -->
<path class="w" stroke="none" d="M1010,653 L1027,633 L1056,612 L1116,576 L1237,650 L1240,652 V746 L1219,796 L1131,843 L1113,833 L1041,790 L1010,774 L1004,697 L1010,695 Z"/>
<!-- top deck -->
<path d="M1027,640 Q1022,636 1027,631 L1056,613"/>
<path d="M1116,576 L1237,649"/>
<path class="t" d="M1119,573 L1240,646"/>
<path d="M1027,640 L1126,696 Q1134,700 1132,707 Q1128,712 1119,709 L1113,709"/>
<path class="m" d="M1030,651 L1119,701"/>
<!-- strip with bosses -->
<path class="w m" d="M1056,606 L1106,579 L1186,628 Q1191,634 1186,650 L1157,672 L1056,612 Z"/>
<path class="t" d="M1056,612 L1157,668 L1186,650"/>
<!-- boss 3 -->
<path class="w" d="M1138,634 V650 Q1146,659 1156,658 Q1170,657 1173,648 V634"/>
<ellipse class="w" cx="1155" cy="634" rx="17.5" ry="7.5"/>
<ellipse class="m" cx="1156" cy="633" rx="11" ry="5" fill="#333" fill-opacity=".25"/>
<!-- boss 2 -->
<path class="w" d="M1104,612 V628 Q1112,637 1122,636 Q1136,635 1139,626 V612"/>
<ellipse class="w" cx="1121" cy="612" rx="17.5" ry="7.5"/>
<ellipse class="m" cx="1122" cy="611" rx="11" ry="5" fill="#333" fill-opacity=".25"/>
<!-- boss 1 -->
<path class="w" d="M1068,592 V608 Q1076,617 1086,616 Q1100,615 1103,606 V592"/>
<ellipse class="w" cx="1085" cy="592" rx="17.5" ry="7.5"/>
<ellipse class="m" cx="1086" cy="591" rx="10" ry="4.5"/>
<!-- left faces -->
<path d="M1010,653 V695 L1004,697 V770 Q1005,776 1011,775 L1041,790 L1113,833"/>
<path class="m" d="M1005,697 L1110,751 M1010,703 L1108,758"/>
<path class="m" d="M1105,751 L1111,754 V798 L1104,795"/>
<path d="M1113,709 V833"/>
<!-- end face -->
<path class="w" d="M1128,693 L1212,640 Q1232,646 1239,652 V746 L1219,796 L1133,843 Q1122,842 1113,833 V709 Q1120,708 1128,693 Z" stroke="none"/>
<path d="M1128,693 L1212,640 L1239,652 V746 M1113,833 Q1124,846 1133,843 L1222,796"/>
<path d="M1132,734 L1158,694 L1197,667 L1223,683 V743 L1197,787 L1158,810 L1132,796 Z"/>
<path class="t" d="M1150,728 V790 Q1153,798 1158,797 M1162,716 V780 M1174,705 V778 Q1177,785 1182,783 M1186,696 V770 M1196,690 L1196,705 M1198,672 L1220,683 V722 L1198,733 Z M1201,700 V760"/>
<path class="m" d="M1216,646 Q1220,656 1228,657 M1126,823 Q1130,833 1133,842"/>
<!-- right cylinder -->
<path class="w" d="M1240,668 Q1248,662 1256,664 Q1266,670 1266,684 Q1264,694 1256,697 L1240,700"/>
<!-- port nut -->
<ellipse class="w" cx="1019" cy="732" rx="18" ry="21" transform="rotate(-25 1019 732)"/>
<ellipse class="w" cx="1014" cy="736" rx="14" ry="18" transform="rotate(-25 1014 736)"/>
<ellipse class="m" cx="1012" cy="737" rx="8" ry="11" transform="rotate(-25 1012 737)"/>
<!-- port plug -->
<path class="w" d="M1060,748 L1082,738 Q1100,740 1102,760 Q1102,778 1090,786 L1070,792 Z"/>
<ellipse class="w" cx="1065" cy="771" rx="13" ry="19" transform="rotate(-25 1065 771)"/>
<ellipse class="m" cx="1064" cy="772" rx="8" ry="12" transform="rotate(-25 1064 772)"/>
</g>

<!-- P18 -->
<g class="k">
<path class="w" d="M912,787 L938,776 Q946,778 944,790 L921,805 Z"/>
<path class="t" d="M922,783 L927,799 M927,781 L932,797 M932,779 L937,795 M937,777 L941,792"/>
<path class="w" d="M898,790 Q906,782 916,785 L922,790 Q928,800 924,814 L914,822 Q904,822 898,812 Z"/>
<path class="m" d="M908,784 Q918,796 913,820"/>
<ellipse class="w" cx="894" cy="808" rx="17" ry="22" transform="rotate(-25 894 808)"/>
<ellipse class="m" cx="891" cy="810" rx="11" ry="14" transform="rotate(-25 891 810)"/>
<ellipse cx="890" cy="811" rx="5" ry="7" transform="rotate(-25 890 811)"/>
</g>
<!-- P19 -->
<g class="k">
<ellipse cx="957" cy="771" rx="10" ry="13" transform="rotate(-25 957 771)" stroke-width="3"/>
<path class="t" d="M948,773 L966,768"/>
</g>
<!-- P22 -->
<g class="k">
<path class="w" d="M951,835 L988,815 Q996,818 995,828 L957,851 Z"/>
<path class="t" d="M958,832 L964,849 M964,829 L970,846 M970,826 L976,843 M976,823 L982,840 M982,820 L988,836 M988,818 L992,832"/>
<ellipse class="w" cx="945" cy="851" rx="14" ry="21" transform="rotate(-25 945 851)"/>
<path class="w" d="M912,842 L930,832 L946,836 L954,852 L950,870 L934,876 Z"/>
<path class="m" d="M930,832 L932,852 L948,866 M932,852 L916,866"/>
<ellipse class="w" cx="922" cy="858" rx="14" ry="18" transform="rotate(-25 922 858)"/>
</g>
<!-- P23 washer -->
<g class="k">
<ellipse class="w" cx="1018" cy="802" rx="15" ry="19" transform="rotate(-25 1018 802)"/>
<ellipse class="w" cx="1014" cy="805" rx="12" ry="16" transform="rotate(-25 1014 805)"/>
<ellipse class="m" cx="1013" cy="806" rx="6" ry="9" transform="rotate(-25 1013 806)"/>
</g>

<!-- P14 lower gasket -->
<g class="k">
<path class="w" d="M1220,776 Q1222,762 1233,756 L1346,687 Q1356,684 1362,694 V760 L1300,880 L1278,899 L1232,926 Q1221,926 1220,918 Z"/>
<path class="t" d="M1224,776 Q1226,765 1236,760 L1347,691 M1224,776 V918" stroke-width="2.2"/>
<path d="M1245,796 Q1250,780 1258,766 L1271,753 L1316,731 Q1332,728 1344,744 L1350,760 L1300,880 L1270,882 Q1252,880 1245,864 Z"/>
<ellipse cx="1241" cy="774" rx="5" ry="6.5" transform="rotate(30 1241 774)" fill="#333"/>
<ellipse cx="1349" cy="708" rx="5" ry="6.5" transform="rotate(30 1349 708)" fill="#333"/>
<ellipse cx="1241" cy="902" rx="5" ry="6.5" transform="rotate(30 1241 902)" fill="#333"/>
</g>
<!-- P16 elbow -->
<g class="k">
<path class="w" d="M1278,946 V801 Q1280,790 1289,786 L1396,725 Q1404,719 1413,721 L1441,736 Q1447,742 1446,750 Q1444,762 1434,768 L1431,771 V818 L1374,935 L1313,968 Q1290,966 1280,958 Q1277,954 1278,946 Z"/>
<path class="t" d="M1306,828 Q1306,810 1323,799 L1436,737"/>
<path d="M1431,771 L1401,775 Q1394,777 1390,784 L1359,800 Q1345,810 1338,822 L1327,834 Q1320,838 1312,837 Q1303,832 1305,822"/>
<path class="m" d="M1293,940 V836 L1299,829 L1306,833"/>
<path class="t" d="M1299,840 Q1300,900 1310,930"/>
<path class="w" stroke="none" d="M1338,822 L1359,800 L1401,776 L1431,771 L1440,827 L1378,932 L1320,905 Q1310,860 1338,822 Z"/>
<path class="t" d="M1345,817 Q1360,802 1377,800 Q1395,799 1410,808 M1389,784 Q1405,790 1420,818 M1327,834 Q1316,870 1320,905"/>
<path d="M1410,808 L1455,834 M1320,905 Q1324,915 1340,920 L1378,938 M1431,771 V822"/>
<path class="w" d="M1306,954 Q1306,934 1328,926 Q1340,924 1350,929 L1374,935 L1313,968 Q1306,964 1306,954 Z"/>
<ellipse cx="1323" cy="818" rx="5.5" ry="7" transform="rotate(30 1323 818)" fill="#333"/>
<ellipse cx="1432" cy="754" rx="5.5" ry="7" transform="rotate(30 1432 754)" fill="#333"/>
<ellipse cx="1323" cy="948" rx="5.5" ry="7" transform="rotate(30 1323 948)" fill="#333"/>
</g>
<g class="k">
<ellipse class="w" cx="1413" cy="887" rx="60" ry="48" transform="rotate(-50 1413 887)"/>
<ellipse class="t" cx="1418" cy="890" rx="60" ry="48" transform="rotate(-50 1418 890)"/>
<ellipse class="w m" cx="1423" cy="893" rx="60" ry="48" transform="rotate(-50 1423 893)"/>
<ellipse class="t" cx="1427" cy="895" rx="60" ry="48" transform="rotate(-50 1427 895)"/>
<ellipse class="w" cx="1434" cy="899" rx="60" ry="48" transform="rotate(-50 1434 899)"/>
<ellipse cx="1433" cy="899" rx="52" ry="41" transform="rotate(-50 1433 899)"/>
<ellipse class="t" cx="1434" cy="898" rx="49" ry="38" transform="rotate(-50 1434 898)"/>
</g>
<!-- P17 bolt -->
<g class="k">
<path class="w" d="M1497,786 Q1493,792 1497,797 L1680,912 L1690,895 L1505,782 Q1500,780 1497,786 Z"/>
<path class="t" d="M1503,785 L1499,794 M1508,788 L1504,797 M1513,791 L1509,800 M1518,794 L1514,803 M1523,797 L1519,806 M1528,800 L1524,809 M1533,803 L1529,812"/>
<path class="w" d="M1678,887 L1696,878 Q1710,882 1714,896 Q1714,912 1702,920 L1688,924 Q1674,922 1670,908 Q1670,894 1678,887 Z"/>
<ellipse class="w" cx="1699" cy="904" rx="15" ry="17" transform="rotate(-30 1699 904)"/>
<path class="m" d="M1690,889 L1704,889 L1712,901 L1706,916 L1692,918 L1686,906 Z"/>
</g>

<!--P2-->
<!--LABELS-->
<g>
<text class="g" x="433" y="248">11</text>
<text x="303" y="404">10</text>
<text class="g" x="836" y="175">11</text>
<text x="715" y="315">10</text>
<text x="1357" y="192">26</text>
<text x="1533" y="298">28</text>
<text x="1487" y="325">27</text>
<text x="1157" y="434">20</text>
<text x="1160" y="514">21</text>
<text x="1003" y="439">14</text>
<text x="1373" y="547">25</text>
<text x="1455" y="651">24</text>
<text x="480" y="702">9</text>
<text x="697" y="672">13</text>
<text x="957" y="722">19</text>
<text class="g" x="821" y="812">18</text>
<text class="g" x="1695" y="837">17</text>
<text x="1022" y="883">23</text>
<text x="947" y="934">22</text>
<text x="1123" y="904">15</text>
<text x="1224" y="988">14</text>
<text x="1418" y="1024">16</text>
<text x="635" y="994">1</text>
<text x="1083" y="1053">8</text>
<text class="g" x="1196" y="1131">5</text>
<text x="1302" y="1260">6</text>
<text x="1359" y="1230">7</text>
<text x="1454" y="1464">2</text>
<text x="1585" y="1531">3</text>
<text x="1715" y="1604">4</text>
<text class="g" x="996" y="1761">12</text>
<circle cx="1418.5" cy="1012.5" r="39.5" fill="none" stroke="#1e7a3a" stroke-width="5.5"/>
</g>
</svg>
</body></html>
